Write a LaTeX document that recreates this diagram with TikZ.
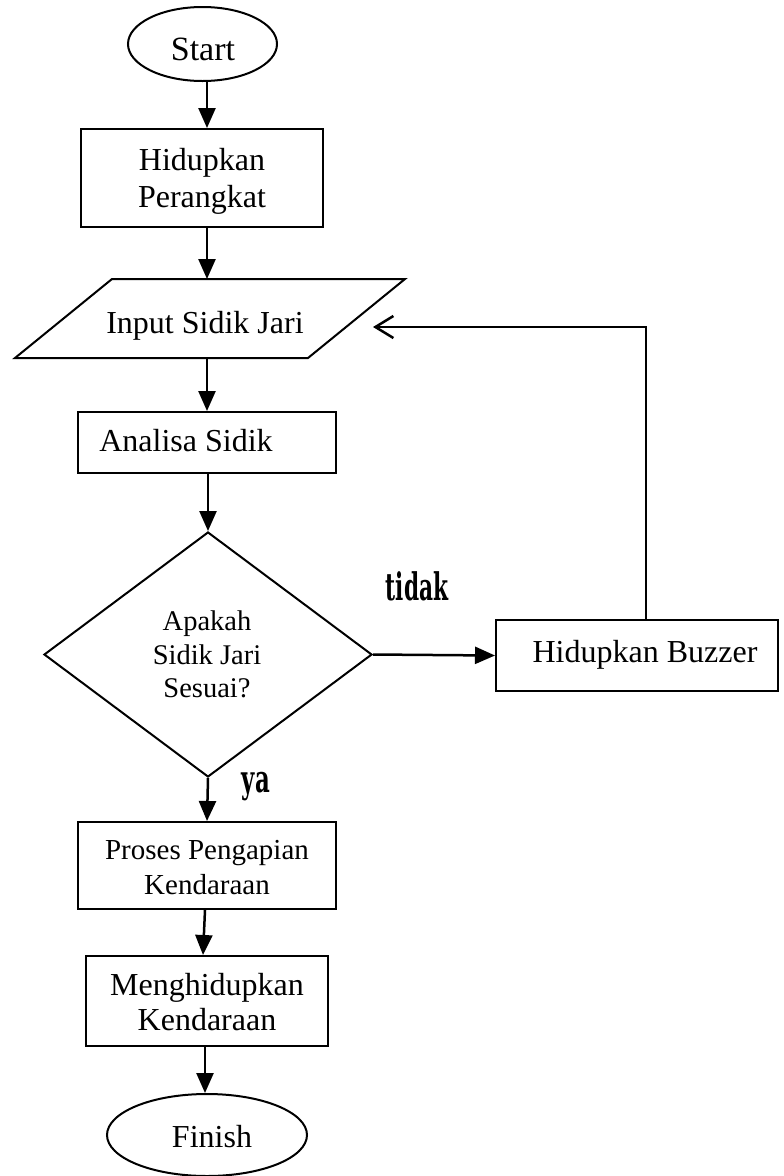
\documentclass[tikz,border=0pt]{standalone}
\usepackage{fontspec}
\setmainfont{Liberation Serif}
\newfontfamily\lblfont{DejaVu Serif}
\usetikzlibrary{shapes.geometric,arrows.meta,calc}
\tikzset{
  shapebox/.style={draw=black, line width=2pt, inner sep=0pt},
  rectbox/.style={shapebox, rectangle},
  termbox/.style={shapebox, ellipse},
  txt/.style={anchor=base, inner sep=0pt, font=\fontsize{32}{38}\selectfont},
  txtsm/.style={anchor=base, inner sep=0pt, font=\fontsize{28.5}{34}\selectfont},
  txtmd/.style={anchor=base, inner sep=0pt, font=\fontsize{29}{35}\selectfont},
  lbl/.style={anchor=base, inner sep=0pt, font=\fontsize{38}{40}\selectfont\lblfont\bfseries},
  arr/.style={line width=2.5pt, -{Triangle[width=17pt,length=20pt]}},
  retarr/.style={line width=2.5pt, -{Straight Barb[width=22pt,length=18pt,line width=2.5pt]}}
}
\begin{document}
\begin{tikzpicture}[x=1pt,y=-1pt]
\useasboundingbox (0,0) rectangle (784,1176);

% shapes
\node[termbox, minimum width=149pt, minimum height=74pt] (start) at (202.5,44) {};
\node[rectbox, minimum width=242pt, minimum height=98pt] (power) at (202,178) {};
\draw[line width=2pt] (112,279) -- (405,279) -- (308,358) -- (15,358) -- cycle;
\coordinate (inpT) at (207,279);
\coordinate (inpB) at (207,358);
\coordinate (ret) at (373,327);
\node[rectbox, minimum width=258pt, minimum height=61pt] (anal) at (207,442.5) {};
\node[shapebox, diamond, minimum width=328pt, minimum height=245pt] (dec) at (208,654.5) {};
\node[rectbox, minimum width=282pt, minimum height=71pt] (buzz) at (637,655.5) {};
\node[rectbox, minimum width=258pt, minimum height=87pt] (proc) at (207,865.5) {};
\node[rectbox, minimum width=242pt, minimum height=90pt] (eng) at (207,1001) {};
\node[termbox, minimum width=200pt, minimum height=82pt] (fin) at (207,1135) {};

% texts
\node[txt, font=\fontsize{34}{38}\selectfont] (tstart) at (203,60) {Start};
\node[txt] (tpow1) at (202,170) {Hidupkan};
\node[txt] (tpow2) at (202,207) {Perangkat};
\node[txt] (tinp) at (205,333) {Input Sidik Jari};
\node[txt] (tanal) at (186,451) {Analisa Sidik};
\node[txtsm] (tdec1) at (207,630) {Apakah};
\node[txtsm] (tdec2) at (207,664) {Sidik Jari};
\node[txtsm] (tdec3) at (207,697) {Sesuai?};
\node[txt] (tbuzz) at (645,662) {Hidupkan Buzzer};
\node[txtmd] (tproc1) at (207,859) {Proses Pengapian};
\node[txtmd] (tproc2) at (207,894) {Kendaraan};
\node[txt] (teng1) at (207,995) {Menghidupkan};
\node[txt] (teng2) at (207,1030) {Kendaraan};
\node[txt] (tfin) at (212,1147) {Finish};
\node[lbl] (ltidak) at (417,600) {\scalebox{0.57}[1]{tidak}};
\node[lbl] (lya) at (256,792) {\scalebox{0.6}[1]{ya}};

% connectors
\draw[arr] (start.south -| anal.north) -- (power.north -| anal.north);
\draw[arr] (power.south -| anal.north) -- (inpT);
\draw[arr] (inpB) -- (anal.north);
\draw[arr] (anal.south -| dec.north) -- (dec.north);
\draw[arr] (dec.east) -- (buzz.west);
\draw[retarr] ($(buzz.north)+(9,0)$) |- (ret);
\draw[arr] (dec.south) -- (proc.north);
\draw[arr] ($(proc.south)+(-2,0)$) -- ($(eng.north)+(-4,0)$);
\draw[arr] ($(eng.south)+(-2,0)$) -- ($(fin.north)+(-2,0)$);
\end{tikzpicture}
\end{document}
